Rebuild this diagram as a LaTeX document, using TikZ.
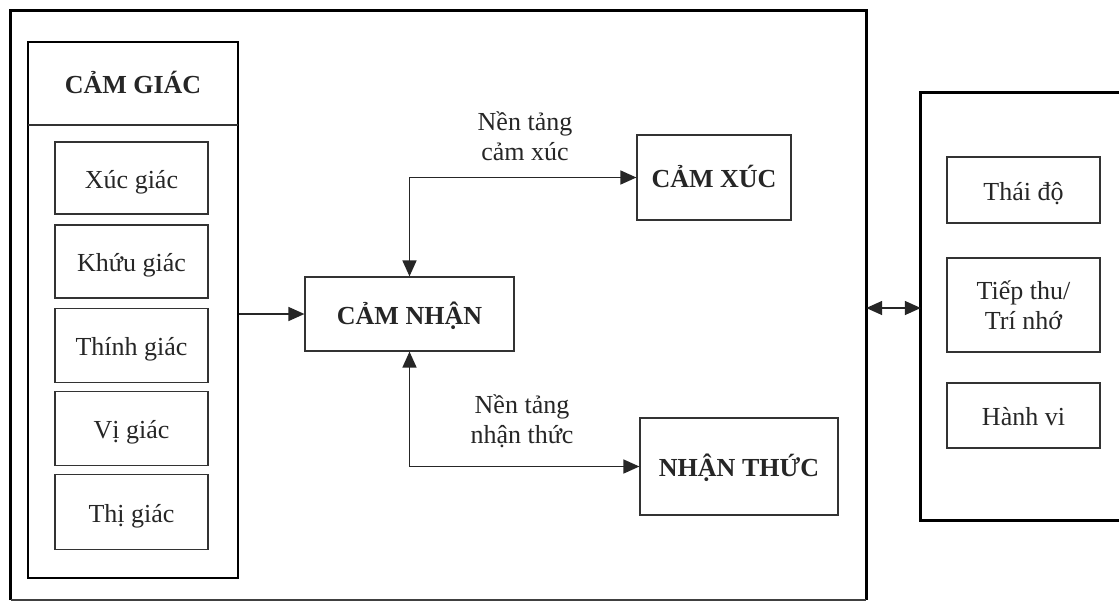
\documentclass[tikz,border=0pt]{standalone}
\usepackage{fontspec}
\setmainfont{Liberation Serif}
\usetikzlibrary{arrows.meta}
\begin{document}
\begin{tikzpicture}[x=1pt,y=-1pt,
  mtxt/.style={font=\fontsize{26}{30}\selectfont, text=black!85},
  txt/.style={mtxt, text height=20pt, text depth=0pt},
  btxt/.style={font=\fontsize{26}{30}\selectfont\bfseries, text=black!85, text height=20pt, text depth=0pt},
  box/.style={draw=black!80, line width=1.2pt, inner sep=0pt, align=center},
  conn/.style={line width=1.5pt, draw=black!85},
  tip/.style={-{Triangle[length=16pt,width=14pt]}},
  dtip/.style={{Triangle[length=16pt,width=14pt]}-{Triangle[length=16pt,width=14pt]}},
  frame/.style={line width=3pt, draw=black, line join=miter},
  lbl/.style={mtxt, align=center, inner sep=0pt}
]
\useasboundingbox (0,0) rectangle (1119,603);
\fill[white] (0,0) rectangle (1119,603);
\clip (0,0) rectangle (1119,603);

% outer frame
\node[draw=none, inner sep=0pt, minimum width=855pt, minimum height=589pt] (outer) at (438.5,305.5) {};
\draw[frame] (outer.south west) -- (outer.north west) -- (outer.north east) -- (outer.south east);
\draw[line width=1.5pt, draw=black!75] (outer.south west) -- (outer.south east);

% left panel
\node[draw=black, line width=2pt, inner sep=0pt, minimum width=210pt, minimum height=536pt] (lp) at (133,310) {};
\node[btxt, inner sep=0pt, minimum width=210pt, minimum height=83pt] (hd) at (133,83.5) {CẢM GIÁC};
\draw[line width=1.5pt, draw=black!80] (hd.south west) -- (hd.south east);

\node[box, txt, minimum width=153pt, minimum height=72pt] (s1) at (131.5,178) {Xúc giác};
\node[box, txt, minimum width=153pt, minimum height=73pt] (s2) at (131.5,261.5) {Khứu giác};
\node[box, txt, minimum width=153pt, minimum height=74pt] (s3) at (131.5,345.5) {Thính giác};
\node[box, txt, minimum width=153pt, minimum height=74pt] (s4) at (131.5,428.5) {Vị giác};
\node[box, txt, minimum width=153pt, minimum height=75pt] (s5) at (131.5,512) {Thị giác};

% center boxes
\node[box, btxt, minimum width=209pt, minimum height=74pt] (cn) at (409.5,314) {CẢM NHẬN};
\node[box, btxt, minimum width=154pt, minimum height=85pt] (cx) at (714,177.5) {CẢM XÚC};
\node[box, btxt, minimum width=198pt, minimum height=97pt] (nt) at (739,466.5) {NHẬN THỨC};

\node[lbl] (l1) at (525,136) {Nền tảng\\cảm xúc};
\node[lbl] (l2) at (522,421) {Nền tảng\\nhận thức};

% connectors
\draw[conn, tip] (lp.east |- cn.west) -- (cn.west);
\draw[conn, dtip] (cx.west) -| (cn.north);
\draw[conn, dtip] (cn.south) |- (nt.west);

% right panel
\node[draw=none, inner sep=0pt, minimum width=230pt, minimum height=427pt] (rp) at (1036,306.5) {};
\draw[frame] (rp.north east) -- (rp.north west) -- (rp.south west) -- (rp.south east);

\node[box, txt, minimum width=153pt, minimum height=66pt] (r1) at (1023.5,190) {Thái độ};
\node[box, mtxt, minimum width=153pt, minimum height=94pt] (r2) at (1023.5,305) {Tiếp thu/\\Trí nhớ};
\node[box, txt, minimum width=153pt, minimum height=65pt] (r3) at (1023.5,415.5) {Hành vi};

\coordinate (da) at (0,308);
\draw[conn, dtip] (outer.east |- da) -- (rp.west |- da);
\end{tikzpicture}
\end{document}
